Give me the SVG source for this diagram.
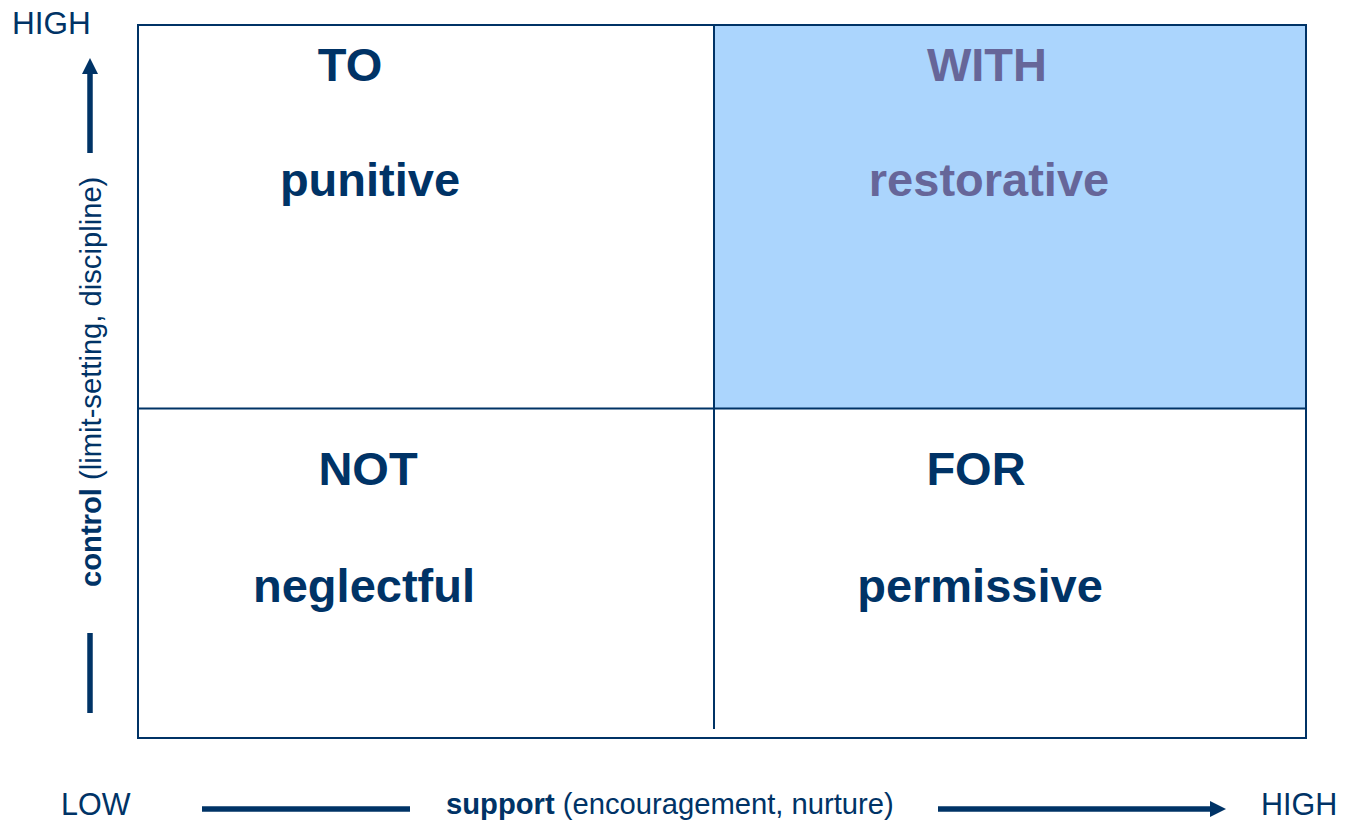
<svg xmlns="http://www.w3.org/2000/svg" width="1345" height="822" viewBox="0 0 1345 822">
  <style>
    .q { font-family: "Liberation Sans", Arial, sans-serif; font-weight: bold; font-size: 47px; fill: #003366; text-anchor: middle; }
    .qw { fill: #666699; }
    .ax { font-family: "Liberation Sans", Arial, sans-serif; font-size: 31.5px; fill: #003366; }
    .axb { font-family: "Liberation Sans", Arial, sans-serif; font-size: 30.5px; fill: #003366; }
    .axl { font-family: "Liberation Sans", Arial, sans-serif; font-size: 29.2px; fill: #003366; }
    .b { font-weight: bold; }
    .grid { stroke: #003366; stroke-width: 2; fill: none; }
    .axis { stroke: #003366; stroke-width: 5.5; fill: none; }
  </style>
  <defs>
    <marker id="head" markerUnits="userSpaceOnUse" markerWidth="17" markerHeight="17" refX="0" refY="8" orient="auto" viewBox="0 0 17 16">
      <path d="M0,0 L16,8 L0,16 Z" fill="#003366"/>
    </marker>
  </defs>
  <rect width="1345" height="822" fill="#ffffff"/>

  <g id="quadrant-with">
    <rect x="714" y="25" width="592" height="384" fill="#ABD5FD"/>
    <text class="q qw" x="987" y="81">WITH</text>
    <text class="q qw" x="989" y="196">restorative</text>
  </g>
  <g id="quadrant-to">
    <text class="q" x="350" y="81">TO</text>
    <text class="q" x="370" y="196">punitive</text>
  </g>
  <g id="quadrant-not">
    <text class="q" x="368" y="485">NOT</text>
    <text class="q" x="364" y="602">neglectful</text>
  </g>
  <g id="quadrant-for">
    <text class="q" x="976" y="485">FOR</text>
    <text class="q" x="980" y="602">permissive</text>
  </g>

  <g id="grid">
    <rect class="grid" x="138" y="25" width="1168" height="713"/>
    <line class="grid" x1="138" y1="408.5" x2="1306" y2="408.5"/>
    <line class="grid" x1="714" y1="25" x2="714" y2="729"/>
  </g>

  <g id="connectors">
    <line class="axis" x1="90" y1="153" x2="90" y2="74" marker-end="url(#head)"/>
    <line class="axis" x1="90" y1="633" x2="90" y2="713"/>
    <line class="axis" x1="202" y1="809" x2="410" y2="809"/>
    <line class="axis" x1="938" y1="809" x2="1210" y2="809" marker-end="url(#head)"/>
  </g>

  <g id="labels">
    <text class="ax" x="12" y="34">HIGH</text>
    <text class="axb" x="61" y="815">LOW</text>
    <text class="axb" x="1261" y="815">HIGH</text>
    <text class="axl" x="446" y="814"><tspan class="b">support</tspan> (encouragement, nurture)</text>
    <text class="axl" transform="translate(101,587) rotate(-90)" x="0" y="0"><tspan class="b">control</tspan> (limit-setting, discipline)</text>
  </g>
</svg>
